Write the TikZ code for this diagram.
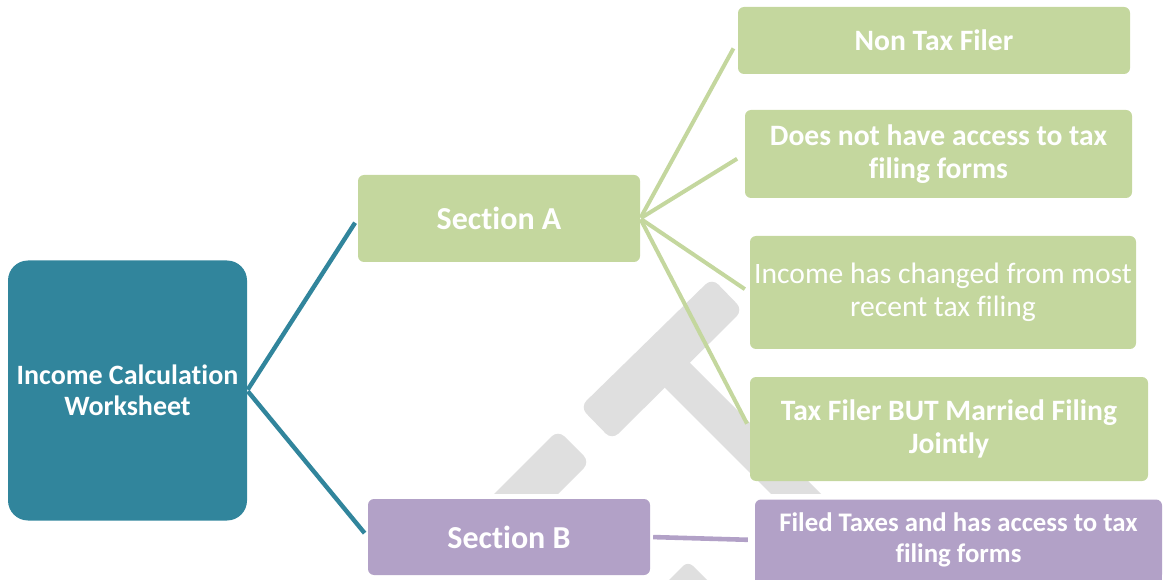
\documentclass[tikz,border=0pt]{standalone}
\usepackage{fontspec}
\setmainfont{Carlito}[Ligatures=NoCommon]
\definecolor{rootteal}{HTML}{31859C}
\definecolor{leafgreen}{HTML}{C4D79E}
\definecolor{leaflav}{HTML}{B2A1C7}
\definecolor{wmgray}{HTML}{DFDFDF}
\begin{document}
\begin{tikzpicture}[x=1pt,y=-1pt,
  box/.style={rounded corners=6pt, inner sep=0pt, align=center, text=white},
  greenbox/.style={box, fill=leafgreen},
  lavbox/.style={box, fill=leaflav},
  leaftext/.style={font=\fontsize{29.6}{32.5}\selectfont\bfseries},
  tealline/.style={draw=rootteal, line width=4.4pt},
  greenline/.style={draw=leafgreen, line width=4pt},
  lavline/.style={draw=leaflav, line width=4.6pt}]
\useasboundingbox (0,0) rectangle (1163,580);
\clip (0,0) rectangle (1163,580);

% faint background watermark
\begin{scope}
  \clip (0,0) rectangle (1163,493);
  \fill[wmgray, rounded corners=9pt] (712,278) -- (743,310) -- (612,440) -- (580,407) -- cycle;
  \fill[wmgray] (676,349) -- (940,613) -- (915,638) -- (651,374) -- cycle;
  \fill[wmgray] (458,530) [rounded corners=9pt] -- (558,430) -- (590,462) [sharp corners] -- (490,562) -- cycle;
\end{scope}
\fill[wmgray, rounded corners=7pt] (688,561) -- (725,598) -- (651,598) -- cycle;

% nodes
\node[box, fill=rootteal, rounded corners=20pt, minimum width=239pt, minimum height=260pt,
      font=\fontsize{28}{31}\selectfont\bfseries] (root) at (127.5,390.5) {Income Calculation\\Worksheet};
\node[greenbox, minimum width=282pt, minimum height=87pt,
      font=\fontsize{32}{34}\selectfont\bfseries] (secA) at (499,218.5) {Section A};
\node[lavbox, minimum width=282pt, minimum height=76pt,
      font=\fontsize{32}{34}\selectfont\bfseries] (secB) at (509,537) {Section B};

\node[greenbox, leaftext, minimum width=392pt, minimum height=67pt] (nontax) at (934,40.5) {Non Tax Filer};
\node[greenbox, leaftext, minimum width=387pt, minimum height=88pt] (noaccess) at (938.5,154) {Does not have access to tax\\filing forms};
\node[greenbox, font=\fontsize{29.6}{32.5}\selectfont, minimum width=386pt, minimum height=113pt] (changed) at (943,292.5) {Income has changed from most\\recent tax filing};
\node[greenbox, leaftext, minimum width=398pt, minimum height=104pt] (married) at (949,429) {Tax Filer BUT Married Filing\\Jointly};
\node[lavbox, font=\fontsize{26.8}{31}\selectfont\bfseries, minimum width=407pt, minimum height=81pt] (filed) at (958.5,540) {Filed Taxes and has access to tax\\filing forms};
\fill[leaflav] ([yshift=8pt]filed.south west) rectangle (filed.south east);

% connectors
\draw[tealline, shorten <=1pt, shorten >=5pt] (root.east) -- (secA.west);
\draw[tealline, shorten <=1pt, shorten >=5pt] (root.east) -- (secB.west);
\draw[greenline, shorten <=1pt, shorten >=9pt] (secA.east) -- (nontax.west);
\draw[greenline, shorten <=1pt, shorten >=9pt] (secA.east) -- (noaccess.west);
\draw[greenline, shorten <=1pt, shorten >=6pt] (secA.east) -- (changed.west);
\draw[greenline, shorten <=1pt, shorten >=6pt] (secA.east) -- (married.west);
\draw[lavline, shorten <=3pt, shorten >=7pt] (secB.east) -- (filed.west);
\end{tikzpicture}
\end{document}
